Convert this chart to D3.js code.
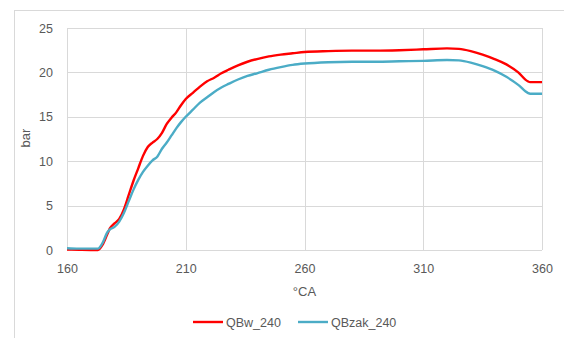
<!DOCTYPE html>
<html>
<head>
<meta charset="utf-8">
<script src="https://cdn.jsdelivr.net/npm/d3@7"></script>
<style>
  html, body { margin: 0; padding: 0; background: #fff; }
  svg { display: block; }
  text { font-family: "Liberation Sans", Arial, sans-serif; fill: #595959; }
</style>
</head>
<body>
<svg id="chart" width="564" height="338"></svg>
<script>
// Crank angle (°CA) sample points
const crankAngle = [160, 165, 170, 173, 175, 177, 178, 180, 182, 184, 186, 188, 190, 192, 194, 196, 198, 200,
  202, 204, 206, 208, 210, 213, 216, 219, 222, 225, 228, 232, 236, 240, 245, 250, 255, 260, 270, 280, 290,
  300, 310, 320, 325, 330, 335, 340, 345, 350, 354, 355, 360];

// Pressure, bar
const qbw240 = [0.05, 0.02, 0.0, 0.0, 0.6, 1.8, 2.4, 3.0, 3.5, 4.6, 6.2, 7.8, 9.2, 10.6, 11.6, 12.1, 12.5, 13.2,
  14.2, 14.9, 15.5, 16.3, 17.0, 17.7, 18.4, 19.0, 19.4, 19.9, 20.3, 20.8, 21.2, 21.5, 21.8, 22.0, 22.15, 22.3,
  22.4, 22.45, 22.45, 22.5, 22.6, 22.7, 22.65, 22.4, 22.0, 21.5, 20.9, 20.0, 19.0, 18.9, 18.9];

const qbzak240 = [0.2, 0.15, 0.15, 0.15, 0.8, 2.0, 2.3, 2.6, 3.2, 4.2, 5.5, 6.8, 7.9, 8.8, 9.5, 10.1, 10.5, 11.4,
  12.1, 12.9, 13.7, 14.4, 15.0, 15.8, 16.6, 17.2, 17.8, 18.3, 18.7, 19.2, 19.6, 19.9, 20.3, 20.6, 20.85, 21.0,
  21.15, 21.2, 21.2, 21.25, 21.3, 21.4, 21.35, 21.1, 20.7, 20.2, 19.5, 18.6, 17.7, 17.6, 17.6];

const xTicks = [160, 210, 260, 310, 360];
const yTicks = [0, 5, 10, 15, 20, 25];

const seriesNames = ["QBw_240", "QBzak_240"];
const seriesColors = ["#ff0000", "#4bacc6"];
const seriesValues = [qbw240, qbzak240];

const svg = d3.select("#chart");
const plot = { left: 67, right: 542, top: 28, bottom: 250 };

// Outer chart frame
svg.append("rect")
  .attr("x", 14.5).attr("y", 10.5)
  .attr("width", 700).attr("height", 500)
  .attr("fill", "none").attr("stroke", "#d9d9d9").attr("stroke-width", 1);

const x = d3.scaleLinear().domain([160, 360]).range([plot.left, plot.right]);
const y = d3.scaleLinear().domain([0, 25]).range([plot.bottom, plot.top]);

// Gridlines
const grid = svg.append("g").attr("stroke", "#d9d9d9").attr("stroke-width", 1);
grid.selectAll("line.h").data(yTicks).join("line")
  .attr("x1", plot.left).attr("x2", plot.right)
  .attr("y1", d => Math.round(y(d)) + 0.5).attr("y2", d => Math.round(y(d)) + 0.5);
grid.selectAll("line.v").data(xTicks).join("line")
  .attr("y1", plot.top).attr("y2", plot.bottom)
  .attr("x1", d => Math.round(x(d)) + 0.5).attr("x2", d => Math.round(x(d)) + 0.5);

// Axes (labels only, lines drawn by the grid)
const xAxis = svg.append("g")
  .attr("transform", `translate(0,${plot.bottom})`)
  .call(d3.axisBottom(x).tickValues(xTicks).tickSize(0).tickPadding(14).tickFormat(d3.format("d")));
const yAxis = svg.append("g")
  .attr("transform", `translate(${plot.left},0)`)
  .call(d3.axisLeft(y).tickValues(yTicks).tickSize(0).tickPadding(14).tickFormat(d3.format("d")));
[xAxis, yAxis].forEach(g => {
  g.select(".domain").remove();
  g.selectAll("text").attr("font-size", 12.5).attr("fill", "#595959")
    .attr("font-family", "Liberation Sans, Arial, sans-serif");
});

// Axis titles
svg.append("text")
  .attr("x", (plot.left + plot.right) / 2).attr("y", 296)
  .attr("text-anchor", "middle").attr("font-size", 13)
  .text("°CA");
svg.append("text")
  .attr("transform", "translate(30,138) rotate(-90)")
  .attr("text-anchor", "middle").attr("font-size", 13)
  .text("bar");

// Series lines
const line = d3.line()
  .x(d => x(d[0]))
  .y(d => y(d[1]))
  .curve(d3.curveMonotoneX);

seriesValues.forEach((vals, i) => {
  svg.append("path")
    .datum(crankAngle.map((a, k) => [a, vals[k]]))
    .attr("fill", "none")
    .attr("stroke", seriesColors[i])
    .attr("stroke-width", 2.4)
    .attr("stroke-linejoin", "round")
    .attr("d", line);
});

// Legend
const legendX = [193, 298];
const legend = svg.append("g");
seriesNames.forEach((name, i) => {
  legend.append("line")
    .attr("x1", legendX[i]).attr("x2", legendX[i] + 30)
    .attr("y1", 322).attr("y2", 322)
    .attr("stroke", seriesColors[i]).attr("stroke-width", 2.4);
  legend.append("text")
    .attr("x", legendX[i] + 33).attr("y", 326.5)
    .attr("font-size", 12.5)
    .text(name);
});
</script>
</body>
</html>
